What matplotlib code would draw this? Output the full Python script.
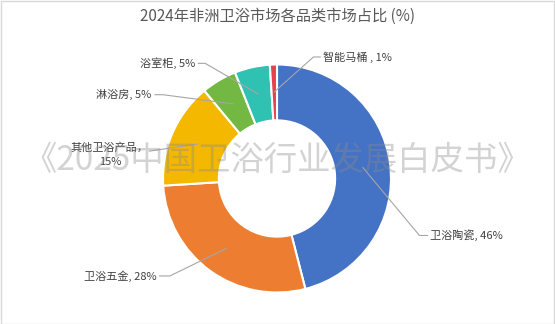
import numpy as np
import matplotlib
matplotlib.use("Agg")
import matplotlib.pyplot as plt
from matplotlib.patches import Rectangle

plt.rcParams['font.family'] = ['Noto Sans CJK SC', 'DejaVu Sans']

# Market share by category (%)
categories = ['卫浴陶瓷', '卫浴五金', '其他卫浴产品', '淋浴房', '浴室柜', '智能马桶']
shares = [46, 28, 15, 5, 5, 1]
label_texts = ['卫浴陶瓷, 46%', '卫浴五金, 28%', '其他卫浴产品，\n15%',
               '淋浴房, 5%', '浴室柜, 5%', '智能马桶 , 1%']
colors = ['#4472C4', '#ED7D31', '#F4B800', '#72B843', '#2FC1B1', '#E2434F']

title = '2024年非洲卫浴市场各品类市场占比 (%)'
watermark = '《2025中国卫浴行业发展白皮书》'

W, H, DPI = 555, 324, 100
fig = plt.figure(figsize=(W / DPI, H / DPI), dpi=DPI)
fig.patch.set_facecolor('white')

# Square axes centred on the donut
cx, cy, r_px = 277, 178.5, 114
ax = fig.add_axes([(cx - r_px) / W, 1 - (cy + r_px) / H, 2 * r_px / W, 2 * r_px / H])
ax.set_aspect('equal')

wedges, _ = ax.pie(shares, colors=colors, startangle=90, counterclock=False,
                   radius=1.0, wedgeprops=dict(width=0.49, edgecolor='white', linewidth=1.5))
ax.set_xlim(-1, 1)
ax.set_ylim(-1, 1)
ax.axis('off')

# Label anchors (text end point), elbow points and alignment
anchors = [(1.32, -0.50), (-1.03, -0.855), (-1.12, 0.24), (-1.07, 0.735), (-0.69, 1.01), (0.38, 1.066)]
elbows = [(1.25, -0.50), (-0.94, -0.855), (-1.12, 0.24), (-1.00, 0.735), (-0.63, 1.01), (0.32, 1.066)]
aligns = ['left', 'right', 'right', 'right', 'right', 'left']
offs = [0.025, -0.03, -0.005, -0.03, -0.03, 0.02]
yoffs = [0, 0, -0.03, 0, 0, 0]

for w, txt, anc, elb, ha, off, yo in zip(wedges, label_texts, anchors, elbows, aligns, offs, yoffs):
    mid = np.deg2rad((w.theta1 + w.theta2) / 2)
    px, py = 0.76 * np.cos(mid), 0.76 * np.sin(mid)
    ax.plot([px, elb[0], anc[0]], [py, elb[1], anc[1]], color='#A6A6A6', lw=0.8,
            clip_on=False, zorder=3)
    ax.text(anc[0] + off, anc[1] + yo, txt, ha=ha, va='center', fontsize=8,
            color='#404040', multialignment='center', clip_on=False, zorder=4,
            linespacing=1.45)

fig.text(0.5, 1 - 16 / H, title, ha='center', va='center', fontsize=11, color='#595959')

fig.text(277 / W, 1 - 160 / H, watermark, ha='center', va='center', fontsize=24,
         color='#8C8C8C', alpha=0.38, zorder=10)

fig.patches.append(Rectangle((0.5 / W, 0.5 / H), 1 - 1.5 / W, 1 - 1.5 / H,
                             transform=fig.transFigure, fill=False,
                             edgecolor='#D9D9D9', linewidth=1.0))

fig.savefig('out.png', dpi=DPI)
